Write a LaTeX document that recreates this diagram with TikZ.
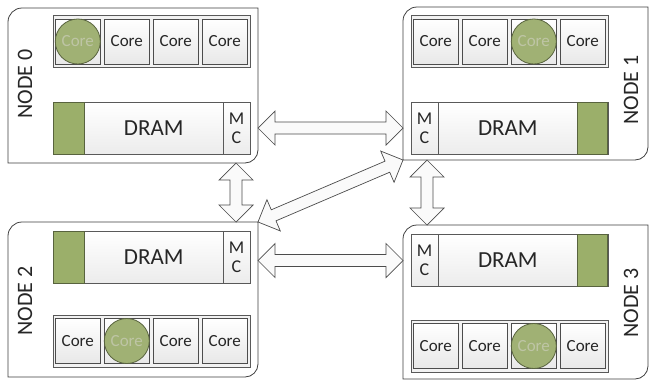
\documentclass[tikz,border=0pt]{standalone}
\usepackage{fontspec}
\setmainfont{Carlito}
\usepackage{tikz}
\usetikzlibrary{positioning,calc}
\usepackage{xcolor}

\definecolor{dramgreen}{RGB}{155,175,106}
\definecolor{darkgreen}{RGB}{88,99,62}
\definecolor{hotgreen}{RGB}{160,177,116}
\definecolor{hottext}{RGB}{190,197,165}
\definecolor{edge}{RGB}{64,64,64}

% outline of a node: rounded top-left and bottom-right corners only
\newcommand{\nodeframe}[1]{%
  \draw[frame] (#1.south west) -- ([yshift=-14pt]#1.north west)
    arc[start angle=180,end angle=90,radius=14pt] -- (#1.north east)
    -- ([yshift=13pt]#1.south east)
    arc[start angle=0,end angle=-90,radius=13pt] -- cycle;}

% fat two-way arrow from #2 to #3 (heads 17pt, shaft 12pt)
\newcommand{\linkarrow}[3]{%
  \coordinate (#1a) at ($(#2)!17pt!(#3)$);
  \coordinate (#1b) at ($(#3)!17pt!(#2)$);
  \draw[link] (#2) -- ($(#1a)!17pt!90:(#3)$) -- ($(#1a)!6pt!90:(#3)$)
    -- ($(#1b)!6pt!-90:(#2)$) -- ($(#1b)!17pt!-90:(#2)$) -- (#3)
    -- ($(#1b)!17pt!90:(#2)$) -- ($(#1b)!6pt!90:(#2)$)
    -- ($(#1a)!6pt!-90:(#3)$) -- ($(#1a)!17pt!-90:(#3)$) -- cycle;}

\begin{document}
\begin{tikzpicture}[x=1pt,y=1pt,
    box/.style={rectangle,inner sep=0,outer sep=0},
    frame/.style={draw=edge,line width=0.8pt},
    strip/.style={rectangle,draw=gray!70!black,fill=gray!10,minimum width=197pt,minimum height=52pt,inner sep=0},
    core/.style={rectangle,draw=gray!60!black,top color=white,bottom color=gray!18,minimum width=45pt,minimum height=45pt,inner sep=0,font=\fontsize{17}{17}\selectfont,text=black!85},
    hot/.style={circle,draw=darkgreen,line width=0.8pt,fill=hotgreen,minimum size=45pt,inner sep=0,font=\fontsize{17}{17}\selectfont,text=hottext},
    dram/.style={rectangle,draw=gray!70!black,top color=white,bottom color=gray!15,minimum width=197pt,minimum height=52pt,inner sep=0},
    bank/.style={rectangle,draw=darkgreen,fill=dramgreen,line width=0.8pt,minimum width=31pt,minimum height=52pt,inner sep=0},
    mc/.style={rectangle,draw=gray!70!black,top color=white,bottom color=gray!15,minimum width=27pt,minimum height=52pt,inner sep=0,align=center,font=\fontsize{18}{19}\selectfont,text=black!85},
    dramtext/.style={font=\fontsize{23}{23}\selectfont,text=black!85},
    nodename/.style={rotate=90,font=\fontsize{22}{22}\selectfont,text=black!85},
    link/.style={draw=gray!60!black,line width=0.7pt,fill=gray!4}]

\useasboundingbox (0,0) rectangle (650,-381);
\fill[white] (0,0) rectangle (650,-381);

% the four nodes
\node[box,minimum width=250pt,minimum height=155pt] (n0) at (133,-85.5) {};
\node[box,minimum width=245pt,minimum height=153pt] (n1) at (525.5,-83.5) {};
\node[box,minimum width=250pt,minimum height=155pt] (n2) at (133,-299.5) {};
\node[box,minimum width=245pt,minimum height=154pt] (n3) at (525.5,-302) {};
\nodeframe{n0}
\nodeframe{n1}
\nodeframe{n2}
\nodeframe{n3}

\node[nodename] (lb0) at (25,-84) {NODE 0};
\node[nodename] (lb1) at (631,-90) {NODE 1};
\node[nodename] (lb2) at (25,-301) {NODE 2};
\node[nodename] (lb3) at (631,-303) {NODE 3};

% cores
\node[strip] (st0) at (151.5,-41.5) {};
\node[strip] (st1) at (509.5,-41.5) {};
\node[strip] (st2) at (151.5,-341) {};
\node[strip] (st3) at (509.5,-346) {};
\foreach \i in {0,...,3} \node[core] (c0\i) at ($(st0.west)+(25+49*\i,0)$) {Core};
\foreach \i in {0,...,3} \node[core] (c1\i) at ($(st1.west)+(25+49*\i,0)$) {Core};
\foreach \i in {0,...,3} \node[core] (c2\i) at ($(st2.west)+(25+49*\i,0)$) {Core};
\foreach \i in {0,...,3} \node[core] (c3\i) at ($(st3.west)+(25+49*\i,0)$) {Core};

\node[hot] (h0) at (c00) {Core};
\node[hot] (h1) at (c12) {Core};
\node[hot] (h2) at (c21) {Core};
\node[hot] (h3) at (c32) {Core};

% memory
\node[dram] (dr0) at (151.5,-128) {};
\node[bank,anchor=west] (g0) at (dr0.west) {};
\node[mc,anchor=east] (mc0) at (dr0.east) {M\\C};
\node[dramtext] (t0) at ($(g0.east)!0.5!(mc0.west)$) {DRAM};

\node[dram] (dr1) at (509.5,-128.5) {};
\node[mc,anchor=west] (mc1) at (dr1.west) {M\\C};
\node[bank,anchor=east,minimum width=30pt] (g1) at (dr1.east) {};
\node[dramtext] (t1) at ($(mc1.east)!0.5!(g1.west)$) {DRAM};

\node[dram] (dr2) at (151.5,-257) {};
\node[bank,anchor=west] (g2) at (dr2.west) {};
\node[mc,anchor=east] (mc2) at (dr2.east) {M\\C};
\node[dramtext] (t2) at ($(g2.east)!0.5!(mc2.west)$) {DRAM};

\node[dram] (dr3) at (509.5,-260.5) {};
\node[mc,anchor=west] (mc3) at (dr3.west) {M\\C};
\node[bank,anchor=east,minimum width=30pt] (g3) at (dr3.east) {};
\node[dramtext] (t3) at ($(mc3.east)!0.5!(g3.west)$) {DRAM};

% interconnect
\linkarrow{l01}{n0.east |- mc0.center}{n1.west |- mc0.center}
\linkarrow{l23}{n2.east |- mc3.center}{n3.west |- mc3.center}
\linkarrow{l02}{[xshift=-22pt]n0.south east}{[xshift=-22pt]n2.north east}
\linkarrow{l13}{[xshift=24pt]n1.south west}{[xshift=24pt]n3.north west}
\linkarrow{l12}{n2.north east}{n1.south west}

\end{tikzpicture}
\end{document}
